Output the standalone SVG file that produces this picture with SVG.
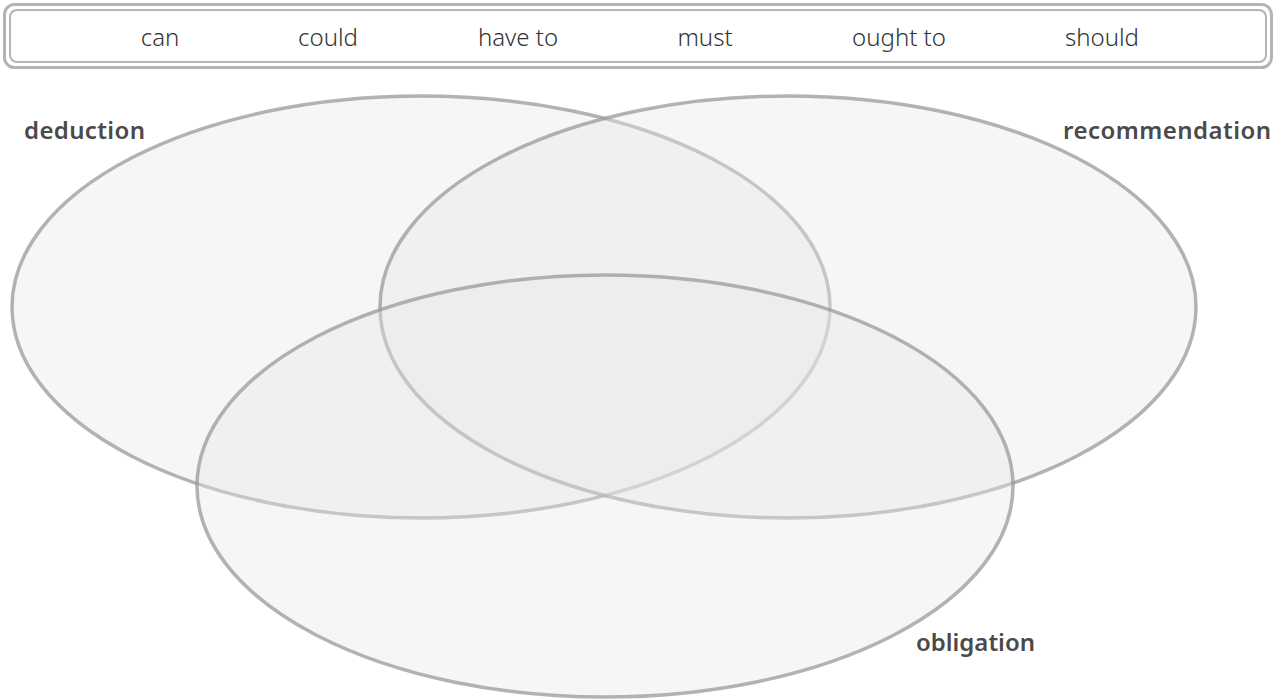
<svg xmlns="http://www.w3.org/2000/svg" width="1276" height="699" viewBox="0 0 1276 699">
<style>
.box-o{fill:none;stroke:#b4b4b4;stroke-width:3}
.box-i{fill:#fff;stroke:#b4b4b4;stroke-width:2}
.word{font-family:"Noto Sans","Liberation Sans",sans-serif;font-size:24px;fill:#333;text-anchor:middle;font-weight:300}
.set{fill:#e8e8e8;fill-opacity:0.38;stroke:#9a9a9a;stroke-opacity:0.75;stroke-width:3.5}
.lbl{font-family:"Noto Sans","Liberation Sans",sans-serif;font-size:24px;fill:#4a4a4a;font-weight:600}
</style>
<rect width="1276" height="699" fill="#fff"/>
<g id="modals">
<rect class="box-o" x="4.5" y="4.5" width="1267" height="63" rx="10"/>
<rect class="box-i" x="10" y="10" width="1256" height="52" rx="7"/>
<text class="word" x="160" y="46">can</text>
<text class="word" x="328" y="46">could</text>
<text class="word" x="518" y="46">have to</text>
<text class="word" x="705" y="46">must</text>
<text class="word" x="899" y="46">ought to</text>
<text class="word" x="1102" y="46">should</text>
</g>
<g id="deduction">
<ellipse class="set" cx="421" cy="307" rx="409" ry="211"/>
<text class="lbl" x="24" y="139" textLength="121">deduction</text>
</g>
<g id="recommendation">
<ellipse class="set" cx="788" cy="307" rx="408" ry="211"/>
<text class="lbl" x="1063" y="139" textLength="208">recommendation</text>
</g>
<g id="obligation">
<ellipse class="set" cx="605" cy="486" rx="408" ry="211"/>
<text class="lbl" x="916" y="651" textLength="119">obligation</text>
</g>
<g id="connectors"></g>
</svg>
